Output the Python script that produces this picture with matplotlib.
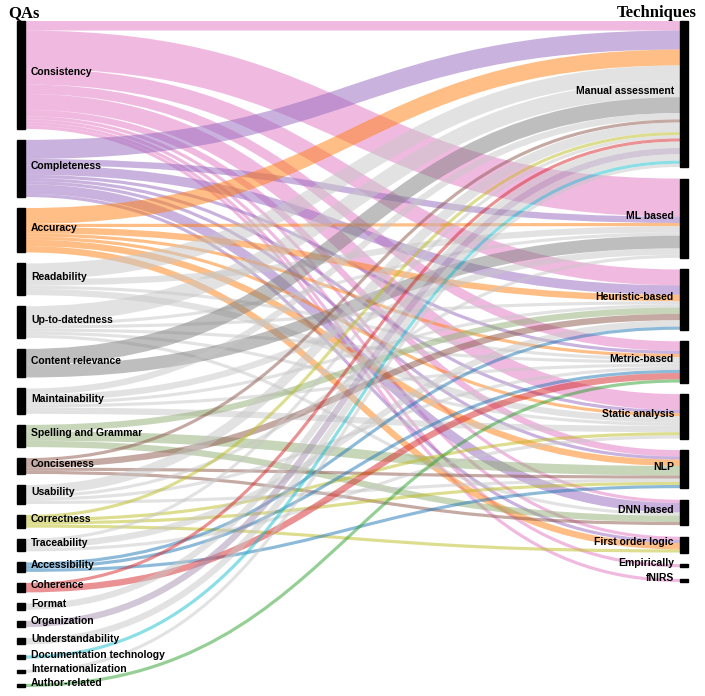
import numpy as np
import matplotlib.pyplot as plt
from matplotlib.path import Path
from matplotlib.patches import PathPatch, Rectangle

plt.rcParams["font.family"] = ["Liberation Sans", "DejaVu Sans"]

qas = [
    "Consistency", "Completeness", "Accuracy", "Readability", "Up-to-datedness",
    "Content relevance", "Maintainability", "Spelling and Grammar", "Conciseness",
    "Usability", "Correctness", "Traceability", "Accessibility", "Coherence",
    "Format", "Organization", "Understandability", "Documentation technology",
    "Internationalization", "Author-related",
]
techniques = [
    "Manual assessment", "ML based", "Heuristic-based", "Metric-based",
    "Static analysis", "NLP", "DNN based", "First order logic", "Empirically", "fNIRS",
]
qa_colors = [
    "#e377c2", "#9467bd", "#ff7f0e", "#c7c7c7", "#c7c7c7",
    "#7f7f7f", "#c7c7c7", "#91ad73", "#8c564b",
    "#c7c7c7", "#bcbd22", "#c7c7c7", "#1f77b4", "#d62728",
    "#c7c7c7", "#a591af", "#c7c7c7", "#17becf",
    "#c7c7c7", "#2ca02c",
]

# papers per (QA -> technique), columns follow `techniques`
consistency = [3, 12, 5, 3, 5, 2, 1, 1, 1, 1]
completeness = [6, 2, 3, 1, 1, 1, 3, 1, 0, 0]
accuracy = [5, 1, 2, 1, 1, 2, 0, 2, 0, 0]
readability = [5, 2, 0, 1, 2, 0, 0, 0, 0, 0]
up_to_datedness = [5, 1, 1, 1, 1, 0, 1, 0, 0, 0]
content_relevance = [5, 4, 0, 0, 0, 0, 0, 0, 0, 0]
maintainability = [2, 2, 1, 1, 2, 0, 0, 0, 0, 0]
spelling_grammar = [0, 0, 2, 0, 0, 3, 2, 0, 0, 0]
conciseness = [1, 0, 2, 0, 0, 1, 1, 0, 0, 0]
usability = [3, 1, 0, 1, 0, 1, 0, 0, 0, 0]
correctness = [1, 0, 0, 0, 1, 1, 0, 1, 0, 0]
traceability = [1, 0, 2, 0, 1, 0, 0, 0, 0, 0]
accessibility = [0, 0, 1, 1, 0, 1, 0, 0, 0, 0]
coherence = [1, 0, 0, 2, 0, 0, 0, 0, 0, 0]
format_ = [2, 0, 0, 0, 0, 0, 0, 0, 0, 0]
organization = [2, 0, 0, 0, 0, 0, 0, 0, 0, 0]
understandability = [2, 0, 0, 0, 0, 0, 0, 0, 0, 0]
documentation_tech = [1, 0, 0, 0, 0, 0, 0, 0, 0, 0]
internationalization = [1, 0, 0, 0, 0, 0, 0, 0, 0, 0]
author_related = [0, 0, 0, 1, 0, 0, 0, 0, 0, 0]

flows = np.array([
    consistency, completeness, accuracy, readability, up_to_datedness,
    content_relevance, maintainability, spelling_grammar, conciseness,
    usability, correctness, traceability, accessibility, coherence,
    format_, organization, understandability, documentation_tech,
    internationalization, author_related,
], dtype=float)

W, H, DPI = 705, 696, 100
top, bottom, right_bottom, pad, node_w = 21, 687, 582, 11, 8
left_x, right_x = 17, 680

src_tot = flows.sum(axis=1)
tgt_tot = flows.sum(axis=0)
ky = (bottom - top - pad * (len(qas) - 1)) / src_tot.sum()
pad_r = (right_bottom - top - tgt_tot.sum() * ky) / (len(techniques) - 1)


def node_tops(totals, gap):
    h = totals * ky
    return top + np.concatenate([[0], np.cumsum(h[:-1] + gap)]), h


src_y, src_h = node_tops(src_tot, pad)
tgt_y, tgt_h = node_tops(tgt_tot, pad_r)

fig = plt.figure(figsize=(W / DPI, H / DPI), dpi=DPI)
ax = fig.add_axes([0, 0, 1, 1])
ax.set_xlim(0, W)
ax.set_ylim(H, 0)
ax.axis("off")

# link end positions: at source sorted by target, at target sorted by source
s_off = src_y.copy()
t_off = tgt_y.copy()
ends = {}
for i in range(len(qas)):
    for j in range(len(techniques)):
        if flows[i, j] > 0:
            w = flows[i, j] * ky
            ends[(i, j)] = [s_off[i] + w / 2, 0, w]
            s_off[i] += w
for j in range(len(techniques)):
    for i in range(len(qas)):
        if flows[i, j] > 0:
            w = flows[i, j] * ky
            ends[(i, j)][1] = t_off[j] + w / 2
            t_off[j] += w

x0, x1 = left_x + node_w, right_x
xm = (x0 + x1) / 2
for (i, j), (ys, yt, w) in ends.items():
    path = Path([(x0, ys), (xm, ys), (xm, yt), (x1, yt)],
                [Path.MOVETO, Path.CURVE4, Path.CURVE4, Path.CURVE4])
    ax.add_patch(PathPatch(path, facecolor="none", edgecolor=qa_colors[i],
                           alpha=0.5, lw=w * 72 / DPI, capstyle="butt"))

for i, name in enumerate(qas):
    ax.add_patch(Rectangle((left_x, src_y[i]), node_w, src_h[i], color="black"))
    ax.text(left_x + node_w + 6, src_y[i] + src_h[i] / 2 + 0.5, name,
            ha="left", va="baseline", fontsize=7.5, fontweight="bold")
for j, name in enumerate(techniques):
    ax.add_patch(Rectangle((right_x, tgt_y[j]), node_w, tgt_h[j], color="black"))
    ax.text(right_x - 6, tgt_y[j] + tgt_h[j] / 2 + 0.5, name,
            ha="right", va="baseline", fontsize=7.5, fontweight="bold")

ax.text(8, 17, "QAs", ha="left", va="baseline", fontsize=12,
        fontweight="bold", family=["Liberation Serif", "DejaVu Serif"])
ax.text(697, 17, "Techniques", ha="right", va="baseline", fontsize=12,
        fontweight="bold", family=["Liberation Serif", "DejaVu Serif"])

fig.savefig("out.png", dpi=DPI)
